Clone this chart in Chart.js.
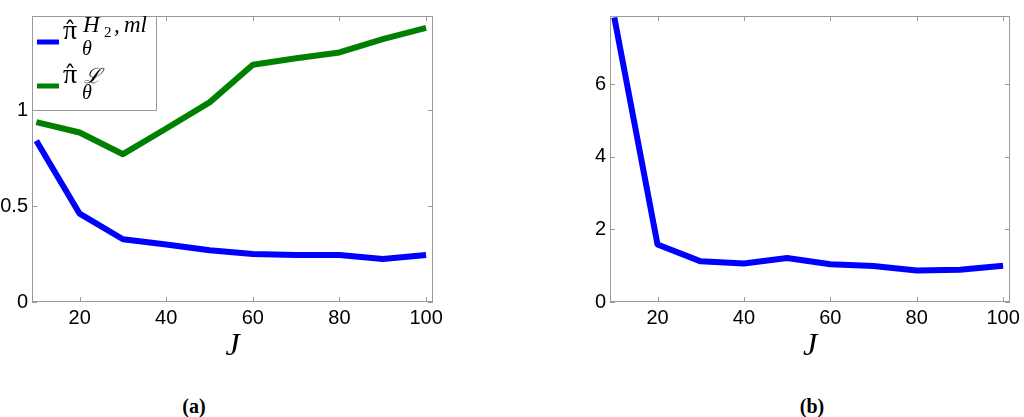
<!DOCTYPE html>
<html>
<head>
<meta charset="utf-8">
<script src="https://cdn.jsdelivr.net/npm/chart.js@4.4.1/dist/chart.umd.min.js"></script>
<style>
  body { margin: 0; background: #fff; width: 1024px; height: 417px; position: relative; overflow: hidden; }
  .wrap { position: absolute; top: 0; height: 372px; }
  .cap { position: absolute; top: 395px; font: bold 20px "Liberation Serif", serif; transform: translateX(-50%); color: #000; }
</style>
</head>
<body>
<div class="wrap" style="left:0;width:445px"><canvas id="chartA"></canvas></div>
<div class="wrap" style="left:575px;width:449px"><canvas id="chartB"></canvas></div>
<div class="cap" style="left:194px">(a)</div>
<div class="cap" style="left:812px">(b)</div>
<script>
// J values, shared by both panels
const jValues = [10, 20, 30, 40, 50, 60, 70, 80, 90, 100];

// panel (a)
const piH2ml = [0.84, 0.46, 0.327, 0.30, 0.27, 0.25, 0.245, 0.245, 0.224, 0.245];
const piL = [0.937, 0.883, 0.77, 0.904, 1.04, 1.236, 1.27, 1.30, 1.37, 1.428];

// panel (b)
const piH2mlB = [7.84, 1.585, 1.12, 1.06, 1.21, 1.04, 0.99, 0.87, 0.89, 1.0];

const xTicks = [20, 40, 60, 80, 100];
const yTicksA = [0, 0.5, 1];
const yTicksB = [0, 2, 4, 6];

const axisGray = '#9a9a9a';
const pts = ys => jValues.map((x, i) => ({ x: x, y: ys[i] }));

// box round the plot with inward tick marks, like matlab
const boxPlugin = {
  id: 'box',
  afterDatasetsDraw(chart) {
    const { ctx, chartArea: a, scales } = chart;
    ctx.save();
    ctx.strokeStyle = axisGray;
    ctx.lineWidth = 1;
    ctx.strokeRect(a.left + 0.5, a.top + 0.5, a.right - a.left - 1, a.bottom - a.top - 1);
    ctx.beginPath();
    scales.x.ticks.forEach(t => {
      const px = Math.round(scales.x.getPixelForValue(t.value)) + 0.5;
      ctx.moveTo(px, a.bottom); ctx.lineTo(px, a.bottom - 5);
      ctx.moveTo(px, a.top); ctx.lineTo(px, a.top + 5);
    });
    scales.y.ticks.forEach(t => {
      const py = Math.round(scales.y.getPixelForValue(t.value)) + 0.5;
      ctx.moveTo(a.left, py); ctx.lineTo(a.left + 5, py);
      ctx.moveTo(a.right, py); ctx.lineTo(a.right - 5, py);
    });
    ctx.stroke();
    ctx.restore();
  }
};

// legend with the math labels, only on panel (a)
const mathLegend = {
  id: 'mathLegend',
  afterDraw(chart) {
    if (chart.canvas.id !== 'chartA') return;
    const ctx = chart.ctx;
    const bx = chart.chartArea.left, by = chart.chartArea.top;
    ctx.save();
    ctx.fillStyle = '#fff';
    ctx.fillRect(bx, by, 125, 95);
    ctx.strokeStyle = axisGray;
    ctx.lineWidth = 1;
    ctx.strokeRect(bx + 0.5, by + 0.5, 124, 94);
    const rows = [26, 70];
    chart.data.datasets.forEach((ds, i) => {
      const y = by + rows[i];
      ctx.strokeStyle = ds.borderColor;
      ctx.lineWidth = 5;
      ctx.beginPath();
      ctx.moveTo(bx + 5, y); ctx.lineTo(bx + 27, y);
      ctx.stroke();
      ctx.fillStyle = '#000';
      ctx.textBaseline = 'alphabetic';
      ctx.textAlign = 'center';
      ctx.font = '28px "Liberation Serif", serif';
      ctx.fillText('\u03c0', bx + 38, y - 3);
      ctx.font = '24px "DejaVu Serif", serif';
      ctx.fillText('\u02c6', bx + 38, y - 3);
      ctx.textAlign = 'left';
      ctx.font = 'italic 20px "Liberation Serif", serif';
      ctx.fillText('\u03b8', bx + 50, y + 13);
      if (i === 0) {
        ctx.font = 'italic 23px "Liberation Serif", serif';
        ctx.fillText('H', bx + 51, y - 10);
        ctx.font = '15px "Liberation Serif", serif';
        ctx.fillText('2', bx + 72, y - 5);
        ctx.font = 'italic 23px "Liberation Serif", serif';
        ctx.fillText(',', bx + 82, y - 10);
        ctx.fillText('ml', bx + 92, y - 10);
      } else {
        ctx.font = 'italic 21px "DejaVu Serif", serif';
        ctx.fillText('\u2112', bx + 52, y - 3);
      }
    });
    ctx.restore();
  }
};

function makeChart(id, datasets, yMax, yTicks) {
  return new Chart(document.getElementById(id), {
    type: 'line',
    data: { datasets: datasets },
    plugins: [boxPlugin, mathLegend],
    options: {
      responsive: true,
      maintainAspectRatio: false,
      animation: false,
      layout: { padding: { top: 2, right: id === 'chartA' ? 12 : 14, left: 0, bottom: 0 } },
      plugins: { legend: { display: false }, tooltip: { enabled: false } },
      elements: {
        point: { radius: 0 },
        line: { borderWidth: 6, borderJoinStyle: 'round', tension: 0 }
      },
      scales: {
        x: {
          type: 'linear', min: 9, max: 101.6,
          grid: { display: false, drawTicks: false }, border: { display: false },
          afterBuildTicks: s => { s.ticks = xTicks.map(v => ({ value: v })); },
          afterFit: s => { s.height = 70; s.paddingLeft = 0; s.paddingRight = 0; },
          ticks: { color: '#000', padding: 4, maxRotation: 0, font: { family: '"Liberation Sans", Arial, sans-serif', size: 20 } },
          title: { display: true, text: 'J', color: '#000', padding: { top: 0, bottom: 6 },
            font: { family: '"Liberation Serif", serif', style: 'italic', size: 32 } }
        },
        y: {
          min: 0, max: yMax,
          grid: { display: false, drawTicks: false }, border: { display: false },
          afterBuildTicks: s => { s.ticks = yTicks.map(v => ({ value: v })); },
          afterFit: s => { s.width = id === 'chartA' ? 32 : 35; },
          ticks: { color: '#000', padding: 4, callback: v => String(v),
            font: { family: '"Liberation Sans", Arial, sans-serif', size: 20 } }
        }
      }
    }
  });
}

makeChart('chartA', [
  { label: 'pi_theta^{H2,ml}', data: pts(piH2ml), borderColor: '#0000ff' },
  { label: 'pi_theta^{L}', data: pts(piL), borderColor: '#008000' }
], 1.49, yTicksA);

makeChart('chartB', [
  { label: 'pi_theta^{H2,ml}', data: pts(piH2mlB), borderColor: '#0000ff' }
], 7.88, yTicksB);
</script>
</body>
</html>
